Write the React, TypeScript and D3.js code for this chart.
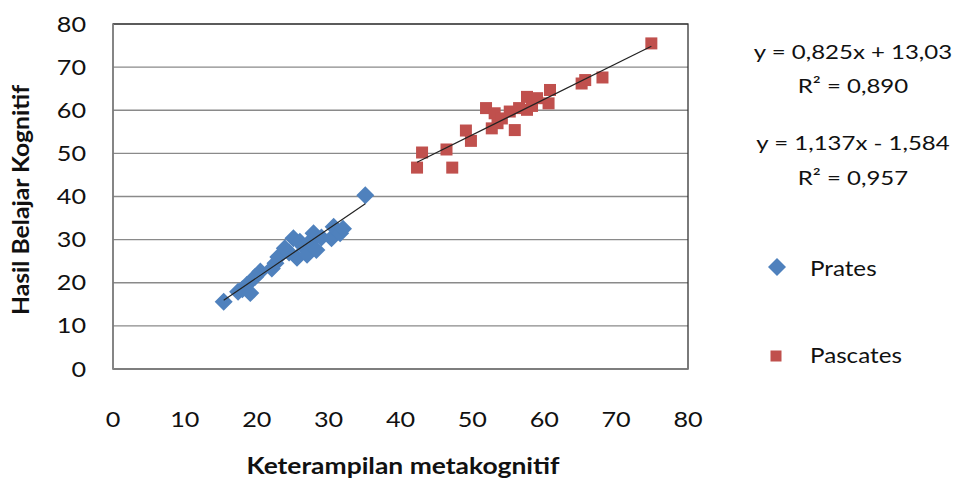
import React from "react";
import * as d3 from "d3";

const pratesX = [15.4, 17.4, 18.0, 18.6, 19.1, 19.8, 20.5, 22.1, 22.6, 23.0, 23.9, 24.5, 25.1, 25.6, 26.0, 26.5, 27.0, 27.4, 27.9, 28.3, 29.0, 30.4, 30.7, 31.6, 32.0, 35.1];
const pratesY = [15.6, 17.9, 18.5, 19.5, 17.6, 21.4, 22.6, 23.3, 24.5, 26.0, 28.0, 27.0, 30.3, 25.8, 29.5, 28.4, 26.5, 29.5, 31.5, 27.6, 30.5, 30.3, 33.0, 31.5, 32.5, 40.3];

const pascatesX = [42.3, 43.0, 47.2, 46.4, 49.1, 49.8, 51.9, 52.7, 53.1, 53.5, 54.1, 55.2, 55.9, 56.5, 57.6, 57.6, 58.3, 59.0, 60.6, 60.8, 65.2, 65.7, 68.1, 74.9];
const pascatesY = [46.7, 50.2, 46.7, 50.9, 55.3, 52.9, 60.5, 55.8, 59.3, 57.0, 58.1, 59.7, 55.4, 60.5, 63.1, 60.1, 61.0, 62.8, 61.6, 64.7, 66.2, 67.0, 67.6, 75.5];

// trend line coefficients [slope, intercept]
const pratesTrend = [1.137, -1.584];
const pascatesTrend = [0.825, 13.03];

const xTicks = [0, 10, 20, 30, 40, 50, 60, 70, 80];
const yTicks = [0, 10, 20, 30, 40, 50, 60, 70, 80];

const equationLines = ["y = 0,825x + 13,03", "R\u00B2 = 0,890", "y = 1,137x - 1,584", "R\u00B2 = 0,957"];
const seriesNames = ["Prates", "Pascates"];
const xTitle = "Keterampilan metakognitif";
const yTitle = "Hasil Belajar Kognitif";

const BLUE = "#4F81BD";
const RED = "#C0504D";
const FONT = "Lato, 'Open Sans', sans-serif";
const SX = 1.2;

function SText(props: any) {
  const { x, y, anchor = "start", size, weight = "normal", children, sx = SX } = props;
  return (
    <g transform={`translate(${x},${y}) scale(${sx},1)`}>
      <text x={0} y={0} textAnchor={anchor} fontSize={size} fontWeight={weight} fontFamily={FONT} fill="#111">
        {children}
      </text>
    </g>
  );
}

export default function App() {
  const W = 956, H = 481;
  const left = 113, right = 688, top = 24, bottom = 369;
  const x = d3.scaleLinear().domain([0, 80]).range([left, right]);
  const y = d3.scaleLinear().domain([0, 80]).range([bottom, top]);

  const pr = pratesX.map((v, i) => [v, pratesY[i]]);
  const pa = pascatesX.map((v, i) => [v, pascatesY[i]]);

  const trend = (xs: number[], c: number[]) => {
    const [mn, mx] = d3.extent(xs) as [number, number];
    const line = d3.line<number>().x((d) => x(d)).y((d) => y(c[0] * d + c[1]));
    return line([mn, mx]) || "";
  };

  const diamond = (cx: number, cy: number, r: number) =>
    `M${cx},${cy - r}L${cx + r},${cy}L${cx},${cy + r}L${cx - r},${cy}Z`;

  return (
    <svg width={W} height={H} style={{ position: "absolute", left: 0, top: 0, background: "#fff" }}>
      <rect x={0} y={0} width={W} height={H} fill="#fff" />
      {/* gridlines */}
      {yTicks.map((t) => (
        <line key={"g" + t} x1={left} x2={right} y1={y(t)} y2={y(t)} stroke="#8a8a8a" strokeWidth={1.3} />
      ))}
      {/* plot border */}
      <rect x={left} y={top} width={right - left} height={bottom - top} fill="none" stroke="#333" strokeWidth={1.3} />
      {/* axis lines */}
      <line x1={left} x2={left} y1={top} y2={bottom} stroke="#8a8a8a" strokeWidth={1.5} />
      <line x1={left} x2={right} y1={bottom} y2={bottom} stroke="#8a8a8a" strokeWidth={1.5} />

      {/* markers */}
      {pr.map(([a, b], i) => (
        <path key={"p" + i} d={diamond(x(a), y(b), 9)} fill={BLUE} />
      ))}
      {pa.map(([a, b], i) => (
        <rect key={"q" + i} x={x(a) - 6} y={y(b) - 6} width={12} height={12} fill={RED} />
      ))}

      {/* trend lines */}
      <path d={trend(pratesX, pratesTrend)} stroke="#222" strokeWidth={1.2} fill="none" />
      <path d={trend(pascatesX, pascatesTrend)} stroke="#222" strokeWidth={1.2} fill="none" />

      {/* y tick labels */}
      {yTicks.map((t) => (
        <SText key={"yl" + t} x={86} y={y(t) + 7.5} anchor="end" size={21}>
          {t}
        </SText>
      ))}
      {/* x tick labels */}
      {xTicks.map((t) => (
        <SText key={"xl" + t} x={x(t)} y={427} anchor="middle" size={21}>
          {t}
        </SText>
      ))}

      {/* axis titles */}
      <text x={403} y={474} textAnchor="middle" fontSize={23} fontWeight="bold" fontFamily={FONT}
        textLength={313} lengthAdjust="spacingAndGlyphs" fill="#111">
        {xTitle}
      </text>
      <text transform={`translate(29,200) rotate(-90)`} x={0} y={0} textAnchor="middle" fontSize={22}
        fontWeight="bold" fontFamily={FONT} textLength={230} lengthAdjust="spacingAndGlyphs" fill="#111">
        {yTitle}
      </text>

      {/* equations */}
      {equationLines.map((s, i) => (
        <SText key={"eq" + i} x={853} y={[59, 93, 150, 185][i]} anchor="middle" size={20}>
          {s}
        </SText>
      ))}

      {/* legend */}
      <path d={diamond(777, 267, 9)} fill={BLUE} />
      <SText x={810} y={276} size={22} sx={1.1}>{seriesNames[0]}</SText>
      <rect x={776 - 5.5} y={356 - 5.5} width={11} height={11} fill={RED} />
      <SText x={810} y={363} size={22} sx={1.1}>{seriesNames[1]}</SText>
    </svg>
  );
}
